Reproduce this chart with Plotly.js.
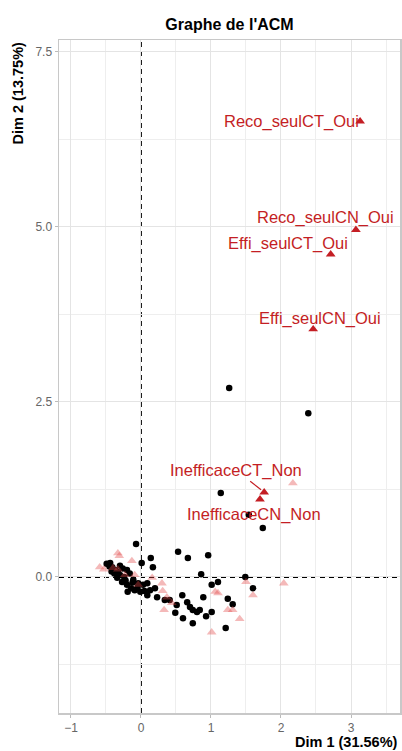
<!DOCTYPE html>
<html>
<head>
<meta charset="utf-8">
<script src="https://cdn.plot.ly/plotly-3.0.1.min.js"></script>
<style>html,body{margin:0;padding:0;background:#fff;}#chart{width:402px;height:751px;}</style>
</head>
<body>
<div id="chart"></div>
<script>
// Individuals (black dots)
const indX = [1.26, 2.39, 1.14, 1.54, 1.74, 1.49, 1.60, 1.24, 1.31, 1.21, 1.10, 1.01, 0.86, 0.96, 0.67, 0.53,
  -0.07, 0.14, 0.17, 0.01, 0.89, 1.01, 0.93, 0.74, 0.84, 0.80, 0.74, 0.70, 0.66, 0.59, 0.60, 0.49, 0.51,
  0.23, 0.20, 0.09, -0.01, 0.03, 0.09, -0.04, -0.11, -0.19, -0.20, -0.27, -0.34, -0.20, -0.33, -0.37,
  -0.41, -0.49, -0.44, -0.30, -0.24, -0.14, -0.09, 0.13, 0.34, 0.41,
  -0.45, -0.38, -0.30, -0.26, -0.16, -0.12, -0.05, 0.05, -0.22, -0.42];
const indY = [2.70, 2.34, 1.20, 0.89, 0.70, 0.00, -0.16, -0.31, -0.39, -0.73, -0.07, -0.11, 0.04, 0.31, 0.27, 0.36,
  0.47, 0.27, 0.14, 0.20, -0.29, -0.50, -0.56, -0.66, -0.47, -0.50, -0.47, -0.43, -0.36, -0.26, -0.59, -0.51, -0.40,
  -0.29, -0.16, -0.26, -0.21, -0.11, -0.09, -0.09, -0.04, -0.21, -0.11, -0.07, -0.01, 0.10, 0.07, 0.10,
  0.14, 0.19, 0.20, 0.16, 0.00, -0.16, -0.19, -0.19, -0.33, -0.33,
  0.15, 0.05, 0.03, 0.12, 0.05, -0.08, -0.15, -0.20, -0.05, 0.08];

// Non-selected categories (transparent triangles)
const modX = [2.17, 2.04, 1.50, 1.60, 1.24, 1.31, 1.41, 1.01, 1.06, 1.10, 0.31, 0.37, 0.44, 0.33, 0.16,
  -0.33, -0.31, -0.13, -0.59, -0.53, -0.40, -0.33, -0.23, -0.09, -0.04, 0.30];
const modY = [1.34, -0.09, -0.07, -0.26, -0.47, -0.47, -0.60, -0.79, -0.21, -0.23, -0.20, -0.29, -0.37, -0.47, -0.01,
  0.34, 0.30, 0.23, 0.14, 0.11, 0.13, 0.11, 0.03, 0.03, -0.11, -0.09];

// Selected categories (labelled)
const labNames = ["Reco_seulCT_Oui", "Reco_seulCN_Oui", "Effi_seulCT_Oui", "Effi_seulCN_Oui", "InefficaceCT_Non", "InefficaceCN_Non"];
const labX = [3.13, 3.07, 2.71, 2.46, 1.76, 1.70];
const labY = [6.51, 4.96, 4.61, 3.54, 1.21, 1.11];

const RED = "#C41E24";
const FONT = "Liberation Sans, Arial, sans-serif";

// label offsets (pixels) for the repelled text
const offsets = {
  "Reco_seulCT_Oui": {dx: -69, dy: 0},
  "Reco_seulCN_Oui": {dx: -30, dy: 12},
  "Effi_seulCT_Oui": {dx: -43, dy: 11},
  "Effi_seulCN_Oui": {dx: 7, dy: 11},
  "InefficaceCT_Non": {dx: -28, dy: 22, arrow: true},
  "InefficaceCN_Non": {dx: -6, dy: -15}
};

const traces = [
  {type: "scatter", mode: "markers", x: indX, y: indY, hoverinfo: "none",
   marker: {color: "#000", size: 6.5, symbol: "circle"}},
  {type: "scatter", mode: "markers", x: modX, y: modY, hoverinfo: "none",
   marker: {color: "rgba(225,70,70,0.38)", size: 8.5, symbol: "triangle-up"}},
  {type: "scatter", mode: "markers", x: labX, y: labY, hoverinfo: "none",
   marker: {color: RED, size: 8.5, symbol: "triangle-up"}}
];

const annotations = labNames.map((n, i) => {
  const o = offsets[n];
  if (o.arrow) {
    return {x: labX[i], y: labY[i], xref: "x", yref: "y", text: n, showarrow: true,
      ax: o.dx, ay: -o.dy, arrowhead: 0, arrowwidth: 1.2, arrowcolor: RED, standoff: 4,
      font: {family: FONT, size: 16.5, color: RED}};
  }
  return {x: labX[i], y: labY[i], xref: "x", yref: "y", text: n, showarrow: false,
    xanchor: "center", yanchor: "middle", xshift: o.dx, yshift: o.dy,
    font: {family: FONT, size: 16.5, color: RED}};
});

annotations.push({xref: "paper", yref: "paper", x: 1, y: 0, xanchor: "right", yanchor: "middle",
  yshift: -29, showarrow: false, text: "<b>Dim 1 (31.56%)</b>",
  font: {family: FONT, size: 14.5, color: "#000"}});
annotations.push({xref: "paper", yref: "paper", x: 0, y: 1, xanchor: "center", yanchor: "top",
  xshift: -42, showarrow: false, textangle: -90, text: "<b>Dim 2 (13.75%)</b>",
  font: {family: FONT, size: 14.5, color: "#000"}});

const layout = {
  width: 402, height: 751,
  margin: {l: 59, r: 2, t: 40, b: 38},
  paper_bgcolor: "#fff", plot_bgcolor: "#fff",
  showlegend: false,
  font: {family: FONT},
  title: {text: "<b>Graphe de l'ACM</b>", x: 0.5, xref: "paper", y: 1 - 24 / 751, yref: "container",
    yanchor: "middle", font: {family: FONT, size: 16, color: "#000"}},
  xaxis: {range: [-1.171, 3.70], tick0: 0, dtick: 1, zeroline: false,
    showgrid: true, gridcolor: "#E4E4E4", gridwidth: 1,
    minor: {dtick: 0.5, tick0: 0, showgrid: true, gridcolor: "#EEEEEE", gridwidth: 1},
    showline: true, mirror: true, linecolor: "#C8C8C8", linewidth: 1.5,
    ticks: "outside", ticklen: 3, tickcolor: "#BBBBBB",
    tickfont: {family: FONT, size: 12, color: "#666"}},
  yaxis: {range: [-1.943, 7.671], tick0: 0, dtick: 2.5, zeroline: false, tickformat: ".1f",
    showgrid: true, gridcolor: "#E4E4E4", gridwidth: 1,
    minor: {dtick: 1.25, tick0: 0, showgrid: true, gridcolor: "#EEEEEE", gridwidth: 1},
    showline: true, mirror: true, linecolor: "#C8C8C8", linewidth: 1.5,
    ticks: "outside", ticklen: 3, tickcolor: "#BBBBBB",
    tickfont: {family: FONT, size: 12, color: "#666"}},
  shapes: [
    {type: "line", xref: "x", yref: "paper", x0: 0, x1: 0, y0: 0, y1: 1,
     line: {color: "#000", width: 1.8, dash: "5px,4px"}, layer: "below"},
    {type: "line", xref: "paper", yref: "y", x0: 0, x1: 1, y0: 0, y1: 0,
     line: {color: "#000", width: 1.8, dash: "5px,4px"}, layer: "below"}
  ],
  annotations: annotations
};

Plotly.newPlot("chart", traces, layout, {displayModeBar: false, staticPlot: true});
</script>
</body>
</html>
